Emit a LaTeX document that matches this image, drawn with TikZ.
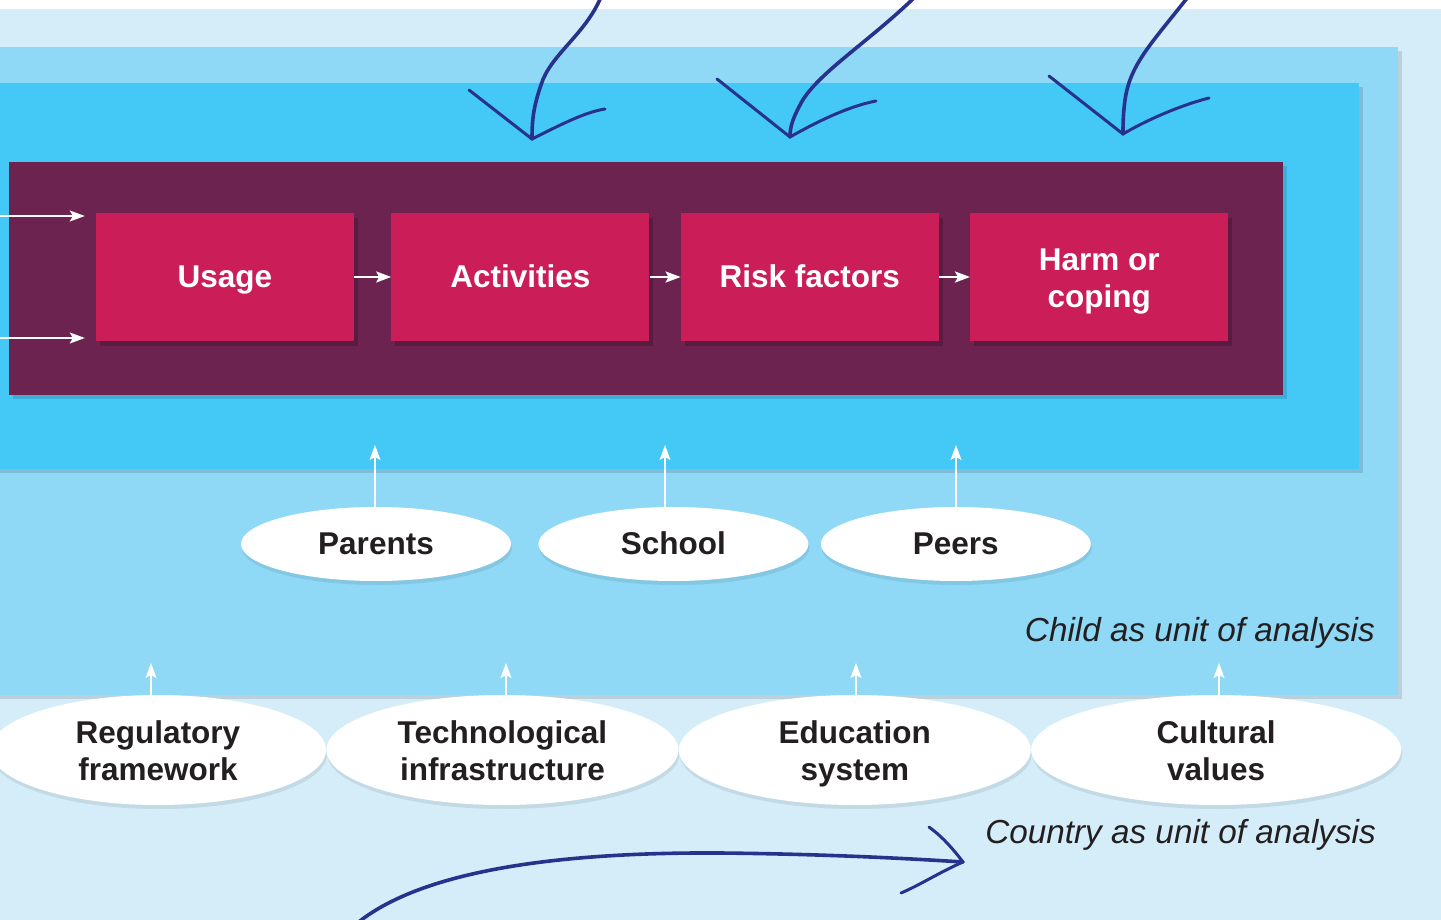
\documentclass[tikz,border=0pt]{standalone}
\usepackage{fontspec}
\setmainfont{Liberation Sans}
\usetikzlibrary{positioning,arrows.meta,shadows,shapes.geometric}

\definecolor{palebg}{HTML}{D4EDF9}
\definecolor{midbg}{HTML}{8FD8F6}
\definecolor{cyanbg}{HTML}{44C8F5}
\definecolor{plum}{HTML}{6D2350}
\definecolor{crimson}{HTML}{CB1E58}
\definecolor{ink}{HTML}{28328C}
\definecolor{darktext}{HTML}{231F20}

% struts that keep the cap line centred
\newcommand{\capstrut}{\rule{0pt}{29pt}}
\newcommand{\pairstrut}{\rule{0pt}{31.5pt}}
\newcommand{\basestrut}{\rule[-7.5pt]{0pt}{7.5pt}}

\tikzset{
  layer shadow/.style={drop shadow={shadow xshift=4pt, shadow yshift=-4pt, opacity=.12, fill=black}},
  stage/.style={fill=crimson, text=white, font=\bfseries\fontsize{31.5}{37}\selectfont,
    minimum width=258pt, minimum height=128pt, inner sep=0pt, align=center,
    execute at begin node=\capstrut, execute at end node=\basestrut,
    drop shadow={shadow xshift=4pt, shadow yshift=-5pt, opacity=.2, fill=black}},
  actor/.style={ellipse, fill=white, text=darktext, font=\bfseries\fontsize{31.5}{37}\selectfont,
    minimum width=270pt, minimum height=74pt, inner sep=0pt, align=center,
    execute at begin node=\capstrut, execute at end node=\basestrut,
    drop shadow={shadow xshift=1pt, shadow yshift=-4pt, opacity=.08, fill=black}},
  context/.style={actor, minimum width=352pt, minimum height=110pt},
  note/.style={text=darktext, font=\itshape\fontsize{33.3}{38}\selectfont, inner sep=0pt},
  flow/.style={white, line width=1.4pt, -{Stealth[length=15pt,width=11pt,inset=3pt]}},
  pen/.style={draw=ink, line width=3.6pt, line cap=round, line join=round},
}

\begin{document}
\begin{tikzpicture}[x=1pt,y=-1pt]
  \useasboundingbox (0,0) rectangle (1441,920);

  % nested levels
  \fill[white] (0,0) rectangle (1441,920);
  \fill[palebg] (0,9) rectangle (1441,920);
  \fill[midbg, layer shadow] (-30,47) rectangle (1398,695);
  \fill[cyanbg, layer shadow] (-30,83) rectangle (1359,469);
  \fill[plum, layer shadow] (9,162) rectangle (1283,395);

  % child pathway
  \node[stage] (usage) at (225,277) {Usage};
  \node[stage, right=37pt of usage] (activities) {Activities};
  \node[stage, right=31pt of activities] (risk) {Risk factors};
  \node[stage, right=31pt of risk] (harm) {\pairstrut Harm or\\coping};

  \coordinate (inA) at (0,216);
  \coordinate (inB) at (0,338);
  \draw[flow, shorten >=11pt] (inA) -- (inA -| usage.west);
  \draw[flow, shorten >=11pt] (inB) -- (inB -| usage.west);
  \draw[flow, line width=2.4pt] (usage) -- (activities);
  \draw[flow, line width=2.4pt] (activities) -- (risk);
  \draw[flow, line width=2.4pt] (risk) -- (harm);

  % social mediation
  \node[actor] (parents) at (376,544) {Parents};
  \node[actor, right=27pt of parents] (school) {School};
  \node[actor, right=12pt of school] (peers) {Peers};

  \coordinate (pUp) at (375,445);
  \coordinate (sUp) at (665,445);
  \coordinate (eUp) at (956,445);
  \draw[flow] (pUp |- parents.north) -- (pUp);
  \draw[flow] (sUp |- school.north) -- (sUp);
  \draw[flow] (eUp |- peers.north) -- (eUp);

  \node[note, anchor=base east] (childlbl) at (1375,641) {Child as unit of analysis};

  % country level
  \node[context, minimum width=336pt] (reg) at (158,750) {\pairstrut Regulatory\\framework};
  \node[context, right=0pt of reg] (tech) {\pairstrut Technological\\infrastructure};
  \node[context, right=0pt of tech] (edu) {\pairstrut Education\\system};
  \node[context, right=0pt of edu, minimum width=370pt] (cult) {\pairstrut Cultural\\values};

  \coordinate (rUp) at (151,663);
  \coordinate (tUp) at (506,663);
  \coordinate (dUp) at (856,663);
  \coordinate (cUp) at (1219,663);
  \draw[flow] (rUp |- reg.north) -- (rUp);
  \draw[flow] (tUp |- tech.north) -- (tUp);
  \draw[flow] (dUp |- edu.north) -- (dUp);
  \draw[flow] (cUp |- cult.north) -- (cUp);

  \node[note, anchor=base east] (countrylbl) at (1376,843) {Country as unit of analysis};

  % hand drawn arrows
  \coordinate (tipA) at (532,139);
  \coordinate (tipB) at (790,137);
  \coordinate (tipC) at (1123,134);
  \coordinate (tipD) at (963,862);

  \draw[pen] (601,-3) .. controls (585,35) and (550,55) .. (541,85)
    .. controls (533,108) and (532,122) .. (tipA);
  \draw[pen, line width=3pt] (tipA) -- (469,90);
  \draw[pen, line width=3pt] (tipA) .. controls (560,125) and (585,112) .. (605,109);

  \draw[pen] (915,-3) .. controls (865,45) and (815,75) .. (800,105)
    .. controls (792,120) and (790,128) .. (tipB);
  \draw[pen, line width=3pt] (tipB) -- (717,79);
  \draw[pen, line width=3pt] (tipB) .. controls (820,120) and (850,106) .. (876,101);

  \draw[pen] (1188,-3) .. controls (1150,45) and (1130,65) .. (1125,100)
    .. controls (1123,115) and (1123,125) .. (tipC);
  \draw[pen, line width=3pt] (tipC) -- (1049,76);
  \draw[pen, line width=3pt] (tipC) .. controls (1150,118) and (1185,104) .. (1209,98);

  \draw[pen] (355,925) .. controls (420,870) and (560,852) .. (720,853)
    .. controls (820,854) and (900,858) .. (tipD);
  \draw[pen, line width=3pt] (tipD) .. controls (950,845) and (940,835) .. (929,827);
  \draw[pen, line width=3pt] (tipD) .. controls (940,872) and (920,885) .. (901,893);
\end{tikzpicture}
\end{document}
